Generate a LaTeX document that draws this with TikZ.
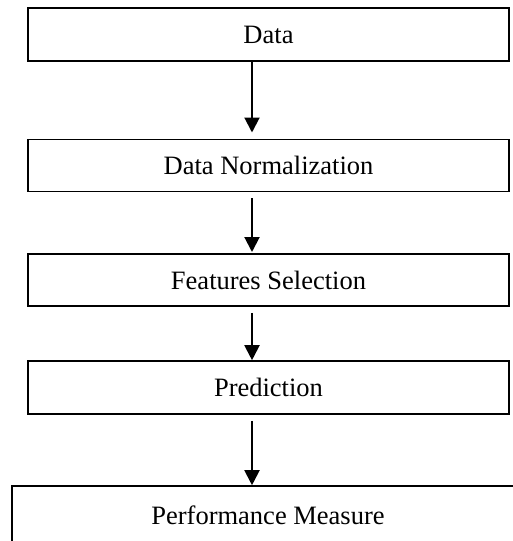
\documentclass[tikz,border=0pt]{standalone}
\usepackage{fontspec}
\setmainfont{Liberation Serif}
\usetikzlibrary{arrows.meta}
\begin{document}
\begin{tikzpicture}[x=0.5pt,y=-0.5pt,
  box/.style={draw=black,line width=0.8pt,rectangle,inner sep=0pt,
    font=\fontsize{13.25}{16}\selectfont},
  arr/.style={line width=1pt,-{Triangle[width=7.5pt,length=7.5pt]}}]
\useasboundingbox (0,0) rectangle (513,541);
\clip (0,0) rectangle (513,541);
\node[box,minimum width=240.5pt,minimum height=26.5pt] (d) at (268.5,34.5) {Data};
\node[box,minimum width=240.5pt,minimum height=26pt] (n) at (268.5,165.3) {Data Normalization};
\node[box,minimum width=240.5pt,minimum height=26pt] (f) at (268.5,280) {Features Selection};
\node[box,minimum width=240.5pt,minimum height=26.5pt] (p) at (268.5,387.5) {Prediction};
\node[box,minimum width=256pt,minimum height=29.5pt] (m) at (268,515.5) {Performance Measure};
\coordinate (ax) at (252,0);
\draw[arr,shorten >=3pt] (d.south -| ax) -- (n.north -| ax);
\draw[arr,shorten <=3pt,shorten >=0.6pt] (n.south -| ax) -- (f.north -| ax);
\draw[arr,shorten <=3pt] (f.south -| ax) -- (p.north -| ax);
\draw[arr,shorten <=3pt] (p.south -| ax) -- (m.north -| ax);
\end{tikzpicture}
\end{document}
